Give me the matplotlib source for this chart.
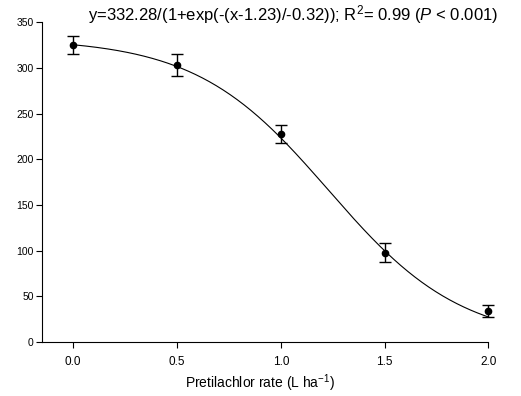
import numpy as np
import matplotlib
matplotlib.use("Agg")
import matplotlib.pyplot as plt

plt.rcParams['font.family'] = ['Liberation Sans', 'DejaVu Sans']
plt.rcParams['mathtext.fontset'] = 'custom'
plt.rcParams['mathtext.rm'] = 'Liberation Sans'
plt.rcParams['mathtext.it'] = 'Liberation Sans:italic'

# Observed means and standard errors
rate = [0.0, 0.5, 1.0, 1.5, 2.0]
response = [325, 303, 228, 98, 34]
stderr = [10, 12, 10, 10, 7]

# Fitted sigmoid parameters
a, x0, b = 332.28, 1.23, -0.32

fig = plt.figure(figsize=(5.21, 3.96), dpi=100)
ax = fig.add_axes([0.0806, 0.136, 0.857, 0.808])

xs = np.linspace(0.0, 2.0, 300)
ys = a / (1 + np.exp(-(xs - x0) / b))
ax.plot(xs, ys, color='black', lw=0.8, clip_on=False)

ax.errorbar(rate, response, yerr=stderr, fmt='o', color='black', ms=4.5,
            elinewidth=1.0, capsize=4, capthick=1.0, clip_on=False)

ax.set_xlim(-0.15, 2.0)
ax.set_ylim(0, 350)
ax.set_xticks([0.0, 0.5, 1.0, 1.5, 2.0])
ax.set_xticklabels(['0.0', '0.5', '1.0', '1.5', '2.0'])
ax.set_yticks(range(0, 351, 50))

for s in ['top', 'right']:
    ax.spines[s].set_visible(False)
for s in ['left', 'bottom']:
    ax.spines[s].set_linewidth(0.8)
ax.tick_params(direction='out', length=4, width=0.8)
ax.tick_params(axis='x', labelsize=8.5, pad=6)
ax.tick_params(axis='y', labelsize=7.5, pad=2)

fig.text(0.5, 1 - 383 / 396, r'Pretilachlor rate (L ha$^{\mathrm{-1}}$)',
         fontsize=10, ha='center', va='center')

fig.text(0.169, 0.962,
         r'y=332.28/(1+exp(-(x-1.23)/-0.32)); R$^{\mathrm{2}}$= 0.99 ($\mathit{P}$ < 0.001)',
         fontsize=12, va='center', ha='left')

fig.savefig('out.png', dpi=100)
